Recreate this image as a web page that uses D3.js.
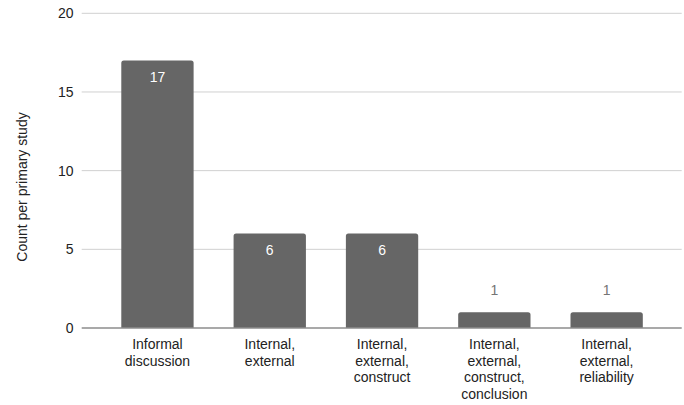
<!DOCTYPE html>
<html>
<head>
<meta charset="utf-8">
<script src="https://cdn.jsdelivr.net/npm/d3@7"></script>
<style>
  body { margin: 0; background: #fff; }
  text { font-family: "Liberation Sans", Arial, sans-serif; }
</style>
</head>
<body>
<div id="chart"></div>
<script>
// data
var categories = [
    ["Informal", "discussion"],
    ["Internal,", "external"],
    ["Internal,", "external,", "construct"],
    ["Internal,", "external,", "construct,", "conclusion"],
    ["Internal,", "external,", "reliability"]
];
var counts = [17, 6, 6, 1, 1];
var yTicks = [0, 5, 10, 15, 20];

// setup
var w = 684;
var h = 405;
var gridLeft = 81.7, gridRight = 681.7;

var svg = d3.select("#chart")
            .append("svg")
            .attr("width", w)
            .attr("height", h);

var x = d3.scaleBand()
          .domain(d3.range(counts.length))
          .range([101.3, 662.8])
          .paddingInner(0.356)
          .paddingOuter(0.178);
var y = d3.scaleLinear()
          .domain([0, 20])
          .range([328, 13.3]);

// gridlines
svg.append("g")
    .selectAll("line")
    .data(yTicks.filter(function(d){ return d > 0; }))
    .enter()
    .append("line")
        .attr("x1", gridLeft)
        .attr("x2", gridRight)
        .attr("y1", function(d){ return y(d); })
        .attr("y2", function(d){ return y(d); })
        .attr("stroke", "#d0d0d0")
        .attr("stroke-width", 1);

// y tick labels
svg.append("g")
    .selectAll("text")
    .data(yTicks)
    .enter()
    .append("text")
        .attr("x", 73.5)
        .attr("y", function(d){ return y(d) + 5; })
        .attr("text-anchor", "end")
        .attr("font-size", "14px")
        .attr("fill", "#222")
        .text(function(d){ return d; });

// bars, rounded top corners only
var r = 2.5;
svg.append("g")
    .selectAll("path")
    .data(counts)
    .enter()
    .append("path")
        .attr("d", function(d, i){
            var x0 = x(i), x1 = x(i) + x.bandwidth(), top = y(d), bot = y(0);
            return "M" + x0 + "," + bot +
                   "V" + (top + r) +
                   "Q" + x0 + "," + top + " " + (x0 + r) + "," + top +
                   "H" + (x1 - r) +
                   "Q" + x1 + "," + top + " " + x1 + "," + (top + r) +
                   "V" + bot + "Z";
        })
        .attr("fill", "#666666");

// baseline
svg.append("line")
    .attr("x1", gridLeft)
    .attr("x2", gridRight)
    .attr("y1", y(0))
    .attr("y2", y(0))
    .attr("stroke", "#8c8c8c")
    .attr("stroke-width", 1.3);

// value labels: inside for tall bars, above for short ones
svg.append("g")
    .selectAll("text")
    .data(counts)
    .enter()
    .append("text")
        .attr("x", function(d, i){ return x(i) + x.bandwidth() / 2; })
        .attr("y", function(d){
            return (y(0) - y(d) > 30) ? y(d) + 21 : y(d) - 17.5;
        })
        .attr("text-anchor", "middle")
        .attr("font-family", "Roboto, sans-serif")
        .attr("font-size", "14px")
        .attr("fill", function(d){ return (y(0) - y(d) > 30) ? "#ffffff" : "#757575"; })
        .text(function(d){ return d; });

// x category labels
var xl = svg.append("g")
    .selectAll("text")
    .data(categories)
    .enter()
    .append("text")
        .attr("text-anchor", "middle")
        .attr("font-size", "14px")
        .attr("fill", "#222");
xl.each(function(lines, i){
    var t = d3.select(this);
    lines.forEach(function(s, k){
        t.append("tspan")
            .attr("x", x(i) + x.bandwidth() / 2)
            .attr("y", 349 + k * 16.5)
            .text(s);
    });
});

// y axis title
svg.append("text")
    .attr("transform", "translate(27,187) rotate(-90)")
    .attr("text-anchor", "middle")
    .attr("font-size", "14px")
    .attr("fill", "#222")
    .text("Count per primary study");
</script>
</body>
</html>
